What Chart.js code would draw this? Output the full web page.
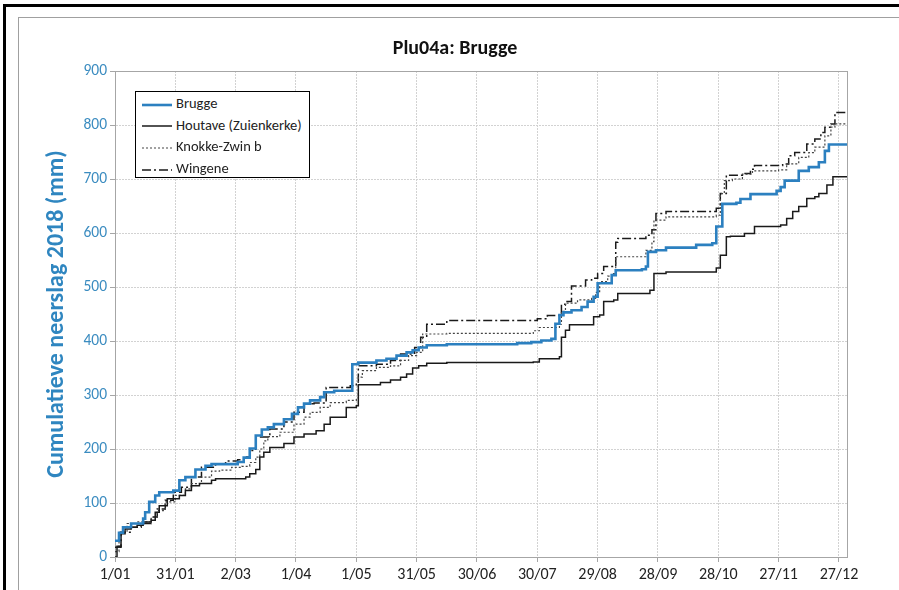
<!DOCTYPE html>
<html>
<head>
<meta charset="utf-8">
<script src="https://cdn.jsdelivr.net/npm/chart.js@4.4.0/dist/chart.umd.min.js"></script>
<style>
  html, body { margin: 0; padding: 0; background: #fff; }
  #wrap { position: relative; width: 899px; height: 590px; overflow: hidden; font-family: Carlito, Lato, "Open Sans", sans-serif; }
  #frame { position: absolute; left: 3px; top: 4px; width: 920px; height: 620px; border-left: 3px solid #000; border-top: 3px solid #000; }
  #inner { position: absolute; left: 18px; top: 17px; width: 900px; height: 600px; border-left: 1px solid #a0a0a0; border-top: 1px solid #a0a0a0; }
  #chart { position: absolute; left: 0; top: 0; }
  #title { position: absolute; left: 255px; width: 400px; top: 35px; text-align: center; font-size: 20px; font-weight: bold; color: #111; line-height: 24px; }
  #legend { position: absolute; left: 135px; top: 91px; width: 173px; height: 85px; border: 1.5px solid #000; background: #fff; }
  .row { position: absolute; left: 6px; height: 22px; line-height: 22px; font-size: 14.5px; color: #222; white-space: nowrap; }
  .row svg { vertical-align: middle; margin-right: 4px; }
</style>
</head>
<body>
<div id="wrap">
  <div id="frame"></div>
  <div id="inner"></div>
  <canvas id="chart" width="899" height="590"></canvas>
  <div id="title">Plu04a: Brugge</div>
  <div id="legend"></div>
</div>
<script>
function qs(id) { return document.getElementById(id); }

// day of year (0 = 1 januari) and cumulative rain (mm)
const tickDays = [0, 30, 60, 90, 120, 150, 180, 210, 240, 270, 300, 330, 360];
const tickLabels = ["1/01", "31/01", "2/03", "1/04", "1/05", "31/05", "30/06", "30/07", "29/08", "28/09", "28/10", "27/11", "27/12"];

const bruggeDays = [0, 2, 4, 8, 14, 15, 17, 20, 22, 29, 32, 35, 40, 45, 48, 61, 64, 67, 70, 73, 76, 79, 84, 88, 91, 94, 97, 102, 104, 109, 117, 118, 121, 130, 135, 140, 145, 148, 151, 155, 165, 182, 200, 207, 212, 217, 219, 221, 223, 227, 232, 235, 238, 240, 247, 249, 262, 264, 265, 269, 274, 289, 297, 299, 301, 302, 309, 311, 316, 329, 331, 333, 340, 345, 350, 353, 355, 364];
const bruggeVals = [30, 45, 55, 62, 71, 83, 102, 114, 120, 123, 142, 148, 162, 169, 172, 176, 184, 201, 225, 236, 240, 246, 255, 265, 277, 284, 290, 296, 305, 308, 308, 357, 360, 364, 367, 373, 379, 383, 388, 392, 394, 394, 396, 398, 401, 404, 432, 448, 453, 457, 463, 473, 482, 507, 522, 531, 533, 538, 565, 568, 573, 578, 581, 612, 612, 654, 656, 663, 672, 678, 685, 697, 715, 722, 731, 752, 764, 765];

const houtaveDays = [0, 1, 3, 5, 8, 11, 14, 18, 20, 22, 26, 32, 35, 38, 42, 48, 50, 65, 67, 70, 72, 74, 77, 84, 89, 94, 100, 104, 107, 115, 120, 121, 132, 137, 142, 145, 148, 151, 155, 165, 208, 211, 221, 222, 224, 226, 236, 238, 241, 243, 248, 250, 266, 268, 274, 299, 301, 304, 306, 313, 318, 331, 334, 337, 340, 344, 348, 350, 354, 357, 364];
const houtaveVals = [0, 20, 43, 52, 55, 59, 65, 68, 83, 95, 108, 114, 123, 132, 136, 142, 145, 148, 154, 162, 185, 194, 203, 210, 222, 228, 234, 246, 259, 277, 280, 319, 323, 328, 333, 339, 350, 354, 359, 360, 361, 367, 371, 407, 420, 430, 430, 445, 448, 473, 476, 488, 494, 525, 528, 535, 559, 593, 594, 599, 612, 615, 627, 640, 649, 664, 667, 673, 689, 704, 704];

const knokkeDays = [0, 2, 6, 11, 18, 21, 25, 30, 35, 38, 43, 48, 52, 58, 63, 67, 70, 72, 74, 76, 82, 89, 94, 97, 102, 107, 115, 120, 121, 123, 130, 137, 142, 146, 150, 153, 165, 208, 211, 221, 222, 224, 230, 237, 239, 241, 245, 247, 249, 264, 267, 268, 274, 299, 301, 303, 307, 312, 317, 330, 334, 340, 345, 348, 353, 356, 358, 364];
const knokkeVals = [10, 46, 62, 65, 74, 86, 102, 114, 126, 136, 148, 159, 161, 166, 168, 175, 185, 200, 215, 223, 231, 246, 259, 268, 277, 286, 290, 293, 333, 345, 351, 354, 364, 373, 379, 413, 414, 419, 425, 431, 455, 470, 476, 479, 490, 510, 520, 525, 556, 568, 584, 624, 630, 633, 673, 697, 700, 709, 715, 717, 728, 740, 749, 759, 780, 796, 802, 803];

const wingeneDays = [0, 3, 8, 13, 18, 21, 25, 29, 33, 38, 43, 50, 55, 61, 64, 67, 70, 77, 84, 89, 94, 99, 105, 117, 120, 121, 130, 137, 142, 149, 152, 155, 165, 210, 215, 221, 222, 224, 227, 234, 237, 240, 243, 247, 249, 250, 264, 267, 269, 274, 299, 301, 304, 312, 316, 318, 332, 335, 338, 344, 348, 351, 353, 356, 358, 364];
const wingeneVals = [18, 46, 55, 62, 74, 89, 105, 120, 129, 148, 166, 172, 178, 180, 185, 197, 222, 237, 250, 268, 284, 285, 314, 317, 320, 354, 357, 364, 376, 388, 407, 431, 438, 441, 447, 451, 468, 473, 502, 513, 516, 525, 538, 538, 583, 590, 596, 606, 636, 640, 646, 673, 707, 710, 718, 725, 728, 743, 749, 765, 774, 786, 796, 802, 823, 825];

const seriesNames = ["Brugge", "Houtave (Zuienkerke)", "Knokke-Zwin b", "Wingene"];

function points(days, vals) {
  return days.map((d, i) => ({ x: d, y: vals[i] }));
}

const styles = [
  { color: "#2c80c0", width: 2.6, dash: [] },
  { color: "#1a1a1a", width: 1.5, dash: [] },
  { color: "#444444", width: 1.2, dash: [2, 2] },
  { color: "#1a1a1a", width: 1.5, dash: [9, 3, 2, 3] },
];

const allData = [
  points(bruggeDays, bruggeVals),
  points(houtaveDays, houtaveVals),
  points(knokkeDays, knokkeVals),
  points(wingeneDays, wingeneVals),
];

const frameLines = {
  id: "frameLines",
  beforeDatasetsDraw(chart) {
    const a = chart.chartArea;
    const ctx = chart.ctx;
    ctx.save();
    ctx.strokeStyle = "#a6a6a6";
    ctx.lineWidth = 1;
    ctx.strokeRect(Math.round(a.left) + 0.5, Math.round(a.top) + 0.5, Math.round(a.right - a.left), Math.round(a.bottom - a.top));
    ctx.restore();
  }
};

const fontFam = "Carlito, Lato, 'Open Sans', sans-serif";

new Chart(qs("chart").getContext("2d"), {
  type: "line",
  data: {
    datasets: seriesNames.map((name, i) => ({
      label: name,
      data: allData[i],
      borderColor: styles[i].color,
      borderWidth: styles[i].width,
      borderDash: styles[i].dash,
      pointRadius: 0,
      stepped: true,
      fill: false,
    })),
  },
  options: {
    responsive: false,
    animation: false,
    layout: { padding: { left: 0, right: 52, top: 71, bottom: 0 } },
    scales: {
      x: {
        type: "linear",
        min: 0,
        max: 364,
        afterBuildTicks: (s) => { s.ticks = tickDays.map(v => ({ value: v })); },
        afterFit: (s) => { s.height = 33; },
        ticks: {
          autoSkip: false,
          maxRotation: 0,
          padding: 3,
          color: "#222",
          font: { family: fontFam, size: 16 },
          callback: (v) => {
            const i = tickDays.indexOf(v);
            return i >= 0 ? tickLabels[i] : "";
          },
        },
        grid: { color: "#d2d2d2", tickColor: "#a6a6a6", tickLength: 5, tickBorderDash: [] },
        border: { color: "#a6a6a6", dash: [2, 1] },
      },
      y: {
        min: 0,
        max: 900,
        afterFit: (s) => { s.width = 115; },
        ticks: {
          stepSize: 100,
          padding: 3,
          color: "#3b8cc0",
          font: { family: fontFam, size: 15.5 },
        },
        grid: { color: "#d2d2d2", tickColor: "#a6a6a6", tickLength: 5, tickBorderDash: [] },
        border: { color: "#a6a6a6", dash: [2, 1] },
        title: {
          display: true,
          text: "Cumulatieve neerslag 2018 (mm)",
          color: "#2f86c0",
          font: { family: fontFam, size: 24, weight: "bold" },
          padding: { top: 43, bottom: 0 },
        },
      },
    },
    plugins: {
      legend: { display: false },
      tooltip: { enabled: false },
    },
  },
  plugins: [frameLines],
});

// legend box drawn as html, top left inside the plot
const legend = qs("legend");
seriesNames.forEach((name, i) => {
  const row = document.createElement("div");
  row.className = "row";
  row.style.top = (0 + i * 21.7) + "px";
  const st = styles[i];
  row.innerHTML =
    `<svg width="30" height="6"><line x1="0" y1="3" x2="30" y2="3" stroke="${st.color}" stroke-width="${st.width}" stroke-dasharray="${st.dash.join(" ")}"/></svg>` + name;
  legend.appendChild(row);
});
</script>
</body>
</html>
